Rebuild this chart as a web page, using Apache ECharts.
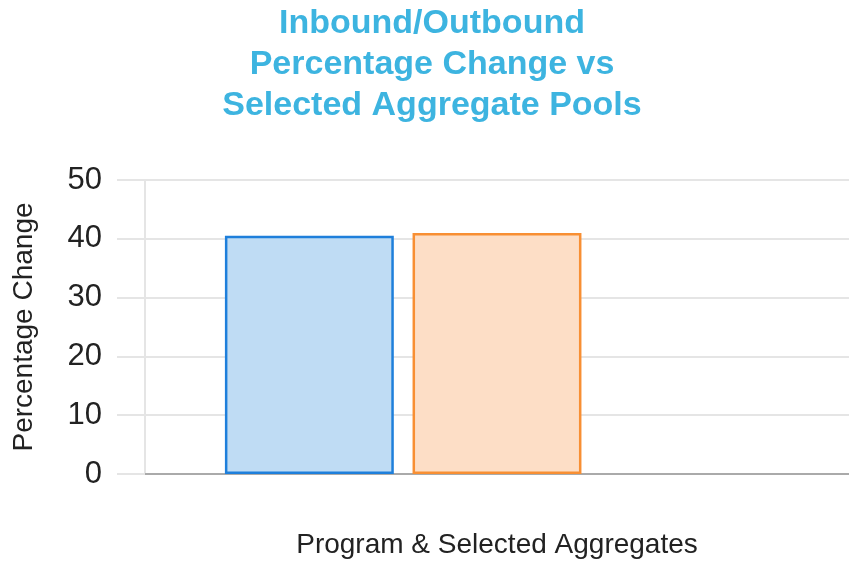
<!DOCTYPE html>
<html>
<head>
<meta charset="utf-8">
<script src="https://cdn.jsdelivr.net/npm/echarts@6/dist/echarts.min.js"></script>
<style>
  html, body { margin: 0; padding: 0; background: #fff; }
  #chart { width: 849px; height: 564px; }
</style>
</head>
<body>
<div id="chart"></div>
<script>
const categories = [''];
const seriesNames = ['Program', 'Selected Aggregates', 'Other'];
const programValues = [40.5];
const aggregateValues = [41.0];
const otherValues = [null];
const yTicks = [0, 10, 20, 30, 40, 50];

const gridColor = '#e5e5e5';
const font = 'Liberation Sans, Arial, sans-serif';

const chart = echarts.init(document.getElementById('chart'));

chart.setOption({
  animation: false,
  title: {
    text: 'Inbound/Outbound\nPercentage Change vs\nSelected Aggregate Pools',
    left: 427,
    top: -2,
    textAlign: 'center',
    textStyle: {
      color: '#3db4e0',
      fontFamily: font,
      fontWeight: 'bold',
      fontSize: 34,
      lineHeight: 41
    }
  },
  grid: { left: 145, right: -4, top: 180, bottom: 87 },
  xAxis: {
    type: 'category',
    data: categories,
    name: 'Program & Selected Aggregates',
    nameLocation: 'middle',
    nameGap: 57,
    nameTextStyle: { color: '#222', fontFamily: font, fontSize: 28 },
    axisLine: { show: true, lineStyle: { color: '#aaaaaa', width: 2 } },
    axisTick: { show: false },
    axisLabel: { show: false },
    splitLine: { show: false }
  },
  yAxis: {
    type: 'value',
    min: yTicks[0],
    max: yTicks[yTicks.length - 1],
    interval: 10,
    name: 'Percentage Change',
    nameLocation: 'middle',
    nameGap: 107,
    nameTextStyle: { color: '#222', fontFamily: font, fontSize: 28 },
    axisLine: { show: true, lineStyle: { color: gridColor, width: 2 } },
    axisTick: { show: true, length: 28, lineStyle: { color: gridColor, width: 2 } },
    axisLabel: { color: '#222', fontFamily: font, fontSize: 31, margin: 43 },
    splitLine: { show: true, lineStyle: { color: gridColor, width: 2 } }
  },
  series: [
    {
      name: seriesNames[0],
      type: 'bar',
      data: programValues,
      barGap: '11.1%',
      barCategoryGap: '22.7%',
      itemStyle: { color: '#bfdcf4', borderColor: '#1e7fdb', borderWidth: 2.5 }
    },
    {
      name: seriesNames[1],
      type: 'bar',
      data: aggregateValues,
      itemStyle: { color: '#fddec6', borderColor: '#f88f33', borderWidth: 2.5 }
    },
    {
      name: seriesNames[2],
      type: 'bar',
      data: otherValues,
      itemStyle: { color: '#fde2e6', borderColor: '#f0647f', borderWidth: 2.5 }
    }
  ]
});
</script>
</body>
</html>
